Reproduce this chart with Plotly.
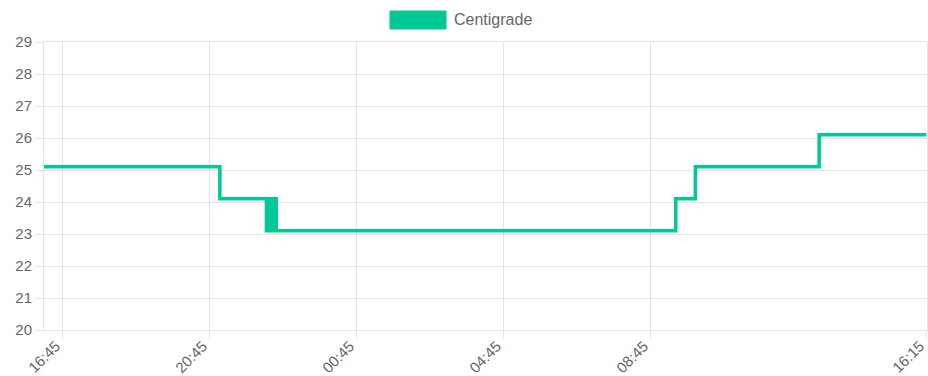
import plotly.graph_objects as go

# Temperature readings (change points of a stepped series)
times = [
    "2021-06-01 16:15", "2021-06-01 21:02",
    "2021-06-01 22:18", "2021-06-01 22:19", "2021-06-01 22:20", "2021-06-01 22:21",
    "2021-06-01 22:22", "2021-06-01 22:23", "2021-06-01 22:24", "2021-06-01 22:25",
    "2021-06-01 22:26", "2021-06-01 22:27", "2021-06-01 22:28", "2021-06-01 22:29",
    "2021-06-01 22:30", "2021-06-01 22:31", "2021-06-01 22:32", "2021-06-01 22:33",
    "2021-06-01 22:34", "2021-06-01 22:35",
    "2021-06-02 09:26", "2021-06-02 09:58", "2021-06-02 13:20", "2021-06-02 16:15",
]
centigrade = [
    25.1, 24.1,
    23.1, 24.1, 23.1, 24.1,
    23.1, 24.1, 23.1, 24.1,
    23.1, 24.1, 23.1, 24.1,
    23.1, 24.1, 23.1, 24.1,
    23.1, 23.1,
    24.1, 25.1, 26.1, 26.1,
]

tick_vals = ["2021-06-01 16:45", "2021-06-01 20:45", "2021-06-02 00:45",
             "2021-06-02 04:45", "2021-06-02 08:45", "2021-06-02 16:15"]
tick_text = ["16:45", "20:45", "00:45", "04:45", "08:45", "16:15"]
y_ticks = list(range(20, 30))

LINE = "#00c896"
GRID = "rgba(0,0,0,0.1)"
TXT = "#666666"
FONT = "Liberation Sans, Arial, sans-serif"

fig = go.Figure()
fig.add_trace(go.Scatter(
    x=times, y=centigrade, mode="lines", name="Centigrade",
    line=dict(color=LINE, width=3.5, shape="hv"),
    showlegend=False,
))

# Legend swatch and label drawn above the plot area
W, H = 928, 376
ml, mr, mt, mb = 44, 1, 42, 46
pw, ph = W - ml - mr, H - mt - mb


def px_x(x):
    return (x - ml) / pw


def px_y(y):
    return (H - mb - y) / ph


fig.add_shape(type="rect", xref="paper", yref="paper",
              x0=px_x(390), x1=px_x(446), y0=px_y(29), y1=px_y(11),
              fillcolor=LINE, line=dict(color=LINE, width=1))
fig.add_annotation(text="Centigrade", xref="paper", yref="paper",
                   x=px_x(452), y=px_y(19.5), xanchor="left", yanchor="middle",
                   showarrow=False, font=dict(family=FONT, size=16, color=TXT))

# Rotated time labels, ending at their tick
for tv, tt in zip(tick_vals, tick_text):
    fig.add_annotation(text=tt, x=tv, xref="x", y=0, yref="paper",
                       xanchor="right", yanchor="top", textangle=-45,
                       showarrow=False, xshift=4, yshift=-4,
                       font=dict(family=FONT, size=15, color=TXT))

fig.update_layout(
    width=W, height=H,
    margin=dict(l=ml, r=mr, t=mt, b=mb),
    paper_bgcolor="white", plot_bgcolor="white",
    font=dict(family=FONT, size=15, color=TXT),
    showlegend=False,
    xaxis=dict(
        type="date", range=["2021-06-01 16:15", "2021-06-02 16:16"],
        tickmode="array", tickvals=tick_vals, showticklabels=False,
        showgrid=True, gridcolor=GRID, gridwidth=1,
        ticks="outside", ticklen=8, tickcolor=GRID,
        showline=True, linecolor=GRID, mirror=True, zeroline=False,
        automargin=False,
    ),
    yaxis=dict(
        range=[20, 29], tickmode="array", tickvals=y_ticks,
        showgrid=True, gridcolor=GRID, gridwidth=1,
        ticks="outside", ticklen=8, tickcolor=GRID,
        showline=True, linecolor=GRID, mirror=True, zeroline=False,
        tickfont=dict(size=15, color=TXT), automargin=False,
    ),
)

fig.write_html("out.html")
